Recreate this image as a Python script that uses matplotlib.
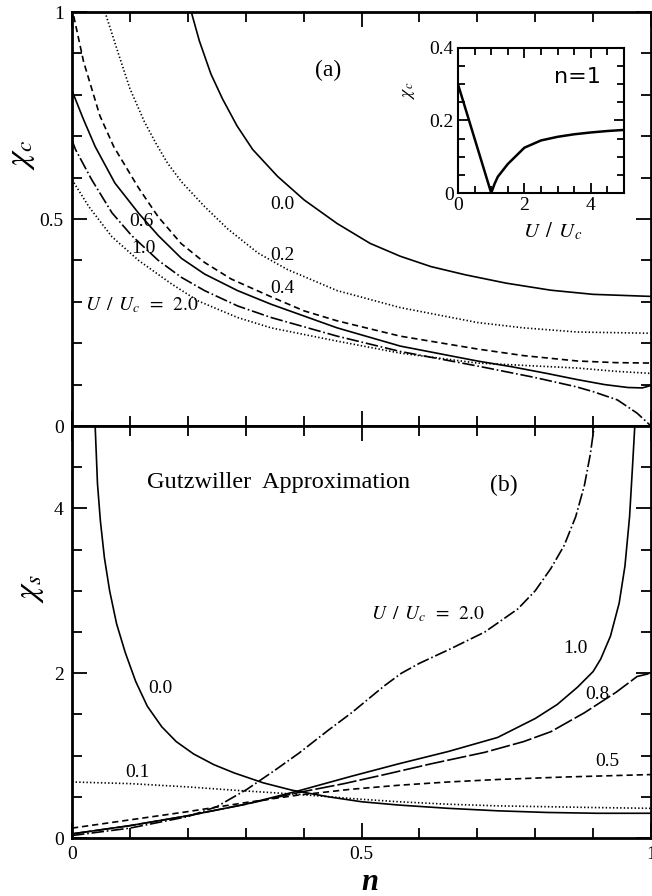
import numpy as np
from matplotlib import pyplot as plt
from matplotlib.ticker import MultipleLocator

plt.rcParams['font.family'] = ['Liberation Serif', 'DejaVu Serif']
plt.rcParams['mathtext.fontset'] = 'stix'
plt.rcParams['lines.scale_dashes'] = False

# ---- (a) charge susceptibility ----
n_a00 = [0.206, 0.22, 0.24, 0.26, 0.285, 0.312, 0.355, 0.401, 0.458, 0.515, 0.567, 0.62, 0.68, 0.75, 0.827, 0.9, 1.0]
c_a00 = [1.0, 0.93, 0.85, 0.79, 0.725, 0.668, 0.603, 0.546, 0.489, 0.441, 0.41, 0.385, 0.365, 0.345, 0.328, 0.318, 0.313]

n_a02 = [0.057, 0.08, 0.10, 0.125, 0.146, 0.165, 0.189, 0.229, 0.269, 0.321, 0.372, 0.458, 0.567, 0.70, 0.78, 0.873, 1.0]
c_a02 = [1.0, 0.9, 0.815, 0.735, 0.68, 0.635, 0.59, 0.53, 0.476, 0.418, 0.378, 0.327, 0.286, 0.25, 0.237, 0.227, 0.224]

n_a04 = [0.003, 0.02, 0.048, 0.072, 0.115, 0.149, 0.189, 0.229, 0.275, 0.344, 0.401, 0.458, 0.567, 0.70, 0.78, 0.873, 0.94, 1.0]
c_a04 = [0.99, 0.88, 0.75, 0.675, 0.575, 0.505, 0.44, 0.395, 0.355, 0.312, 0.278, 0.254, 0.217, 0.186, 0.17, 0.157, 0.153, 0.152]

n_a06 = [0.0, 0.02, 0.04, 0.074, 0.115, 0.149, 0.189, 0.229, 0.286, 0.344, 0.458, 0.567, 0.70, 0.76, 0.82, 0.873, 0.92, 0.96, 0.985, 1.0]
c_a06 = [0.81, 0.74, 0.675, 0.587, 0.514, 0.46, 0.405, 0.367, 0.327, 0.294, 0.237, 0.193, 0.157, 0.143, 0.127, 0.112, 0.1, 0.093, 0.092, 0.098]

n_a10 = [0.0, 0.006, 0.034, 0.069, 0.103, 0.149, 0.189, 0.229, 0.286, 0.344, 0.458, 0.567, 0.70, 0.80, 0.87, 0.90, 0.942, 0.976, 1.0]
c_a10 = [0.69, 0.668, 0.595, 0.515, 0.46, 0.4, 0.359, 0.327, 0.29, 0.262, 0.217, 0.18, 0.145, 0.117, 0.095, 0.083, 0.063, 0.031, 0.0]

n_a20 = [0.0, 0.029, 0.069, 0.115, 0.172, 0.218, 0.286, 0.344, 0.458, 0.567, 0.70, 0.80, 0.873, 0.94, 1.0]
c_a20 = [0.595, 0.53, 0.457, 0.4, 0.343, 0.302, 0.262, 0.237, 0.205, 0.176, 0.152, 0.145, 0.14, 0.132, 0.127]

# inset: chi_c at n=1 vs U/Uc
u_in = [0.0, 1.0, 1.1, 1.2, 1.5, 2.0, 2.5, 3.0, 3.5, 4.0, 4.5, 5.0]
c_in = [0.30, 0.0, 0.025, 0.045, 0.08, 0.125, 0.145, 0.155, 0.162, 0.167, 0.171, 0.174]

# ---- (b) spin susceptibility ----
n_b00 = [0.040, 0.044, 0.049, 0.056, 0.065, 0.077, 0.092, 0.11, 0.13, 0.155, 0.18, 0.21, 0.245, 0.28, 0.33, 0.38, 0.443, 0.5, 0.564, 0.65, 0.735, 0.82, 0.907, 1.0]
s_b00 = [5.0, 4.3, 3.85, 3.4, 3.0, 2.6, 2.25, 1.9, 1.6, 1.35, 1.17, 1.02, 0.89, 0.79, 0.67, 0.58, 0.5, 0.44, 0.4, 0.36, 0.33, 0.31, 0.3, 0.3]

n_b01 = [0.0, 0.1, 0.2, 0.28, 0.39, 0.5, 0.564, 0.65, 0.735, 0.9, 1.0]
s_b01 = [0.68, 0.66, 0.62, 0.58, 0.53, 0.47, 0.44, 0.41, 0.39, 0.37, 0.36]

n_b05 = [0.0, 0.1, 0.2, 0.3, 0.39, 0.48, 0.564, 0.65, 0.735, 0.85, 1.0]
s_b05 = [0.12, 0.22, 0.32, 0.43, 0.52, 0.59, 0.64, 0.68, 0.71, 0.74, 0.77]

n_b08 = [0.0, 0.1, 0.2, 0.3, 0.39, 0.47, 0.54, 0.62, 0.713, 0.78, 0.827, 0.885, 0.94, 0.976, 1.0]
s_b08 = [0.05, 0.15, 0.27, 0.41, 0.55, 0.66, 0.77, 0.9, 1.04, 1.17, 1.29, 1.52, 1.77, 1.96, 2.0]

n_b10 = [0.0, 0.1, 0.2, 0.3, 0.39, 0.483, 0.564, 0.65, 0.735, 0.80, 0.838, 0.873, 0.9, 0.913, 0.93, 0.945, 0.955, 0.963, 0.968, 0.972]
s_b10 = [0.05, 0.15, 0.27, 0.41, 0.57, 0.75, 0.9, 1.05, 1.22, 1.45, 1.62, 1.83, 2.02, 2.17, 2.45, 2.85, 3.3, 3.9, 4.5, 5.0]

n_b20 = [0.0, 0.1, 0.2, 0.25, 0.302, 0.35, 0.392, 0.443, 0.483, 0.54, 0.569, 0.60, 0.655, 0.713, 0.77, 0.80, 0.827, 0.85, 0.87, 0.885, 0.895, 0.902]
s_b20 = [0.03, 0.12, 0.26, 0.38, 0.59, 0.82, 1.03, 1.31, 1.52, 1.85, 2.0, 2.12, 2.3, 2.5, 2.78, 3.0, 3.27, 3.55, 3.9, 4.28, 4.65, 5.0]

DOT = (0, (1, 1.6))
DASH = (0, (4.5, 2.8))
DASHDOT = (0, (9, 2, 1.2, 2))
LONGDASH = (0, (14, 2.2))
LW = 1.2

fig = plt.figure(figsize=(6.52, 8.96), dpi=100)
W, H = 652., 896.
ax1 = fig.add_axes([72/W, 1-426/H, 579/W, 414/H])
ax2 = fig.add_axes([72/W, 1-838/H, 579/W, 412/H])
axi = fig.add_axes([458/W, 1-193/H, 166/W, 145/H])

def style(ax, lw=2.0, maj=11, mn=7):
    for s in ax.spines.values():
        s.set_linewidth(lw)
    ax.tick_params(which='both', direction='in', top=True, right=True, width=1.3)
    ax.tick_params(which='major', length=maj, labelsize=14, pad=6)
    ax.tick_params(which='minor', length=mn)

# top panel
ax1.plot(n_a00, c_a00, 'k-', lw=LW)
ax1.plot(n_a02, c_a02, 'k', ls=DOT, lw=LW)
ax1.plot(n_a04, c_a04, 'k', ls=DASH, lw=LW)
ax1.plot(n_a06, c_a06, 'k-', lw=LW)
ax1.plot(n_a10, c_a10, 'k', ls=DASHDOT, lw=LW)
ax1.plot(n_a20, c_a20, 'k', ls=DOT, lw=LW)
ax1.set_xlim(0, 1)
ax1.set_ylim(0, 1)
ax1.set_xticks([0, 0.5, 1])
ax1.set_yticks([0, 0.5, 1], ['0', '0.5', '1'])
ax1.xaxis.set_minor_locator(MultipleLocator(0.1))
ax1.yaxis.set_minor_locator(MultipleLocator(0.1))
style(ax1)
ax1.tick_params(labelbottom=False)
ax1.set_ylabel(r'$\chi_c$', fontsize=24)
ax1.yaxis.set_label_coords(-0.06, 0.655)

fs = 14
ulab = r'$U\ \,/\ \,U_c\ \,=\ \,2.0$'
ax1.text(0.363, 0.534, '0.0', fontsize=fs, ha='center', va='center')
ax1.text(0.364, 0.411, '0.2', fontsize=fs, ha='center', va='center')
ax1.text(0.364, 0.331, '0.4', fontsize=fs, ha='center', va='center')
ax1.text(0.120, 0.493, '0.6', fontsize=fs, ha='center', va='center')
ax1.text(0.124, 0.428, '1.0', fontsize=fs, ha='center', va='center')
ax1.text(0.022, 0.292, ulab, fontsize=fs, ha='left', va='center')
ax1.text(0.443, 0.86, '(a)', fontsize=17, ha='center', va='center')

# inset
axi.plot(u_in, c_in, 'k-', lw=1.8)
axi.set_xlim(0, 5)
axi.set_ylim(0, 0.4)
axi.set_xticks([0, 2, 4])
axi.set_yticks([0, 0.2, 0.4], ['0', '0.2', '0.4'])
axi.xaxis.set_minor_locator(MultipleLocator(0.5))
axi.yaxis.set_minor_locator(MultipleLocator(0.05))
style(axi, lw=1.5, maj=7, mn=5)
axi.tick_params(which='major', pad=3)
axi.set_ylabel(r'$\chi_c$', fontsize=13)
axi.yaxis.set_label_coords(-0.25, 0.71)
axi.set_xlabel(r'$U\ \,/\ \,U_c$', fontsize=15)
axi.xaxis.set_label_coords(0.57, -0.19)
axi.text(0.72, 0.80, 'n=1', fontsize=16, family='DejaVu Sans', ha='center', va='center',
         transform=axi.transAxes)

# bottom panel
ax2.plot(n_b00, s_b00, 'k-', lw=LW)
ax2.plot(n_b01, s_b01, 'k', ls=DOT, lw=LW)
ax2.plot(n_b05, s_b05, 'k', ls=DASH, lw=LW)
ax2.plot(n_b08, s_b08, 'k', ls=LONGDASH, lw=LW)
ax2.plot(n_b10, s_b10, 'k-', lw=LW)
ax2.plot(n_b20, s_b20, 'k', ls=DASHDOT, lw=LW)
ax2.set_xlim(0, 1)
ax2.set_ylim(0, 5)
ax2.set_xticks([0, 0.5, 1], ['0', '0.5', '1'])
ax2.set_yticks([0, 2, 4])
ax2.xaxis.set_minor_locator(MultipleLocator(0.1))
ax2.yaxis.set_minor_locator(MultipleLocator(0.5))
style(ax2)
ax2.set_ylabel(r'$\chi_s$', fontsize=24)
ax2.yaxis.set_label_coords(-0.045, 0.607)
ax2.set_xlabel('n', fontsize=22, style='italic', weight='bold')
ax2.xaxis.set_label_coords(0.515, -0.072)

ax2.text(0.153, 1.81, '0.0', fontsize=fs, ha='center', va='center')
ax2.text(0.113, 0.79, '0.1', fontsize=fs, ha='center', va='center')
ax2.text(0.517, 2.72, ulab, fontsize=fs, ha='left', va='center')
ax2.text(0.87, 2.30, '1.0', fontsize=fs, ha='center', va='center')
ax2.text(0.907, 1.74, '0.8', fontsize=fs, ha='center', va='center')
ax2.text(0.924, 0.93, '0.5', fontsize=fs, ha='center', va='center')
ax2.text(0.357, 4.31, 'Gutzwiller  Approximation', fontsize=17.5, ha='center', va='center')
ax2.text(0.746, 4.28, '(b)', fontsize=17, ha='center', va='center')

fig.savefig('out.png', dpi=100)
